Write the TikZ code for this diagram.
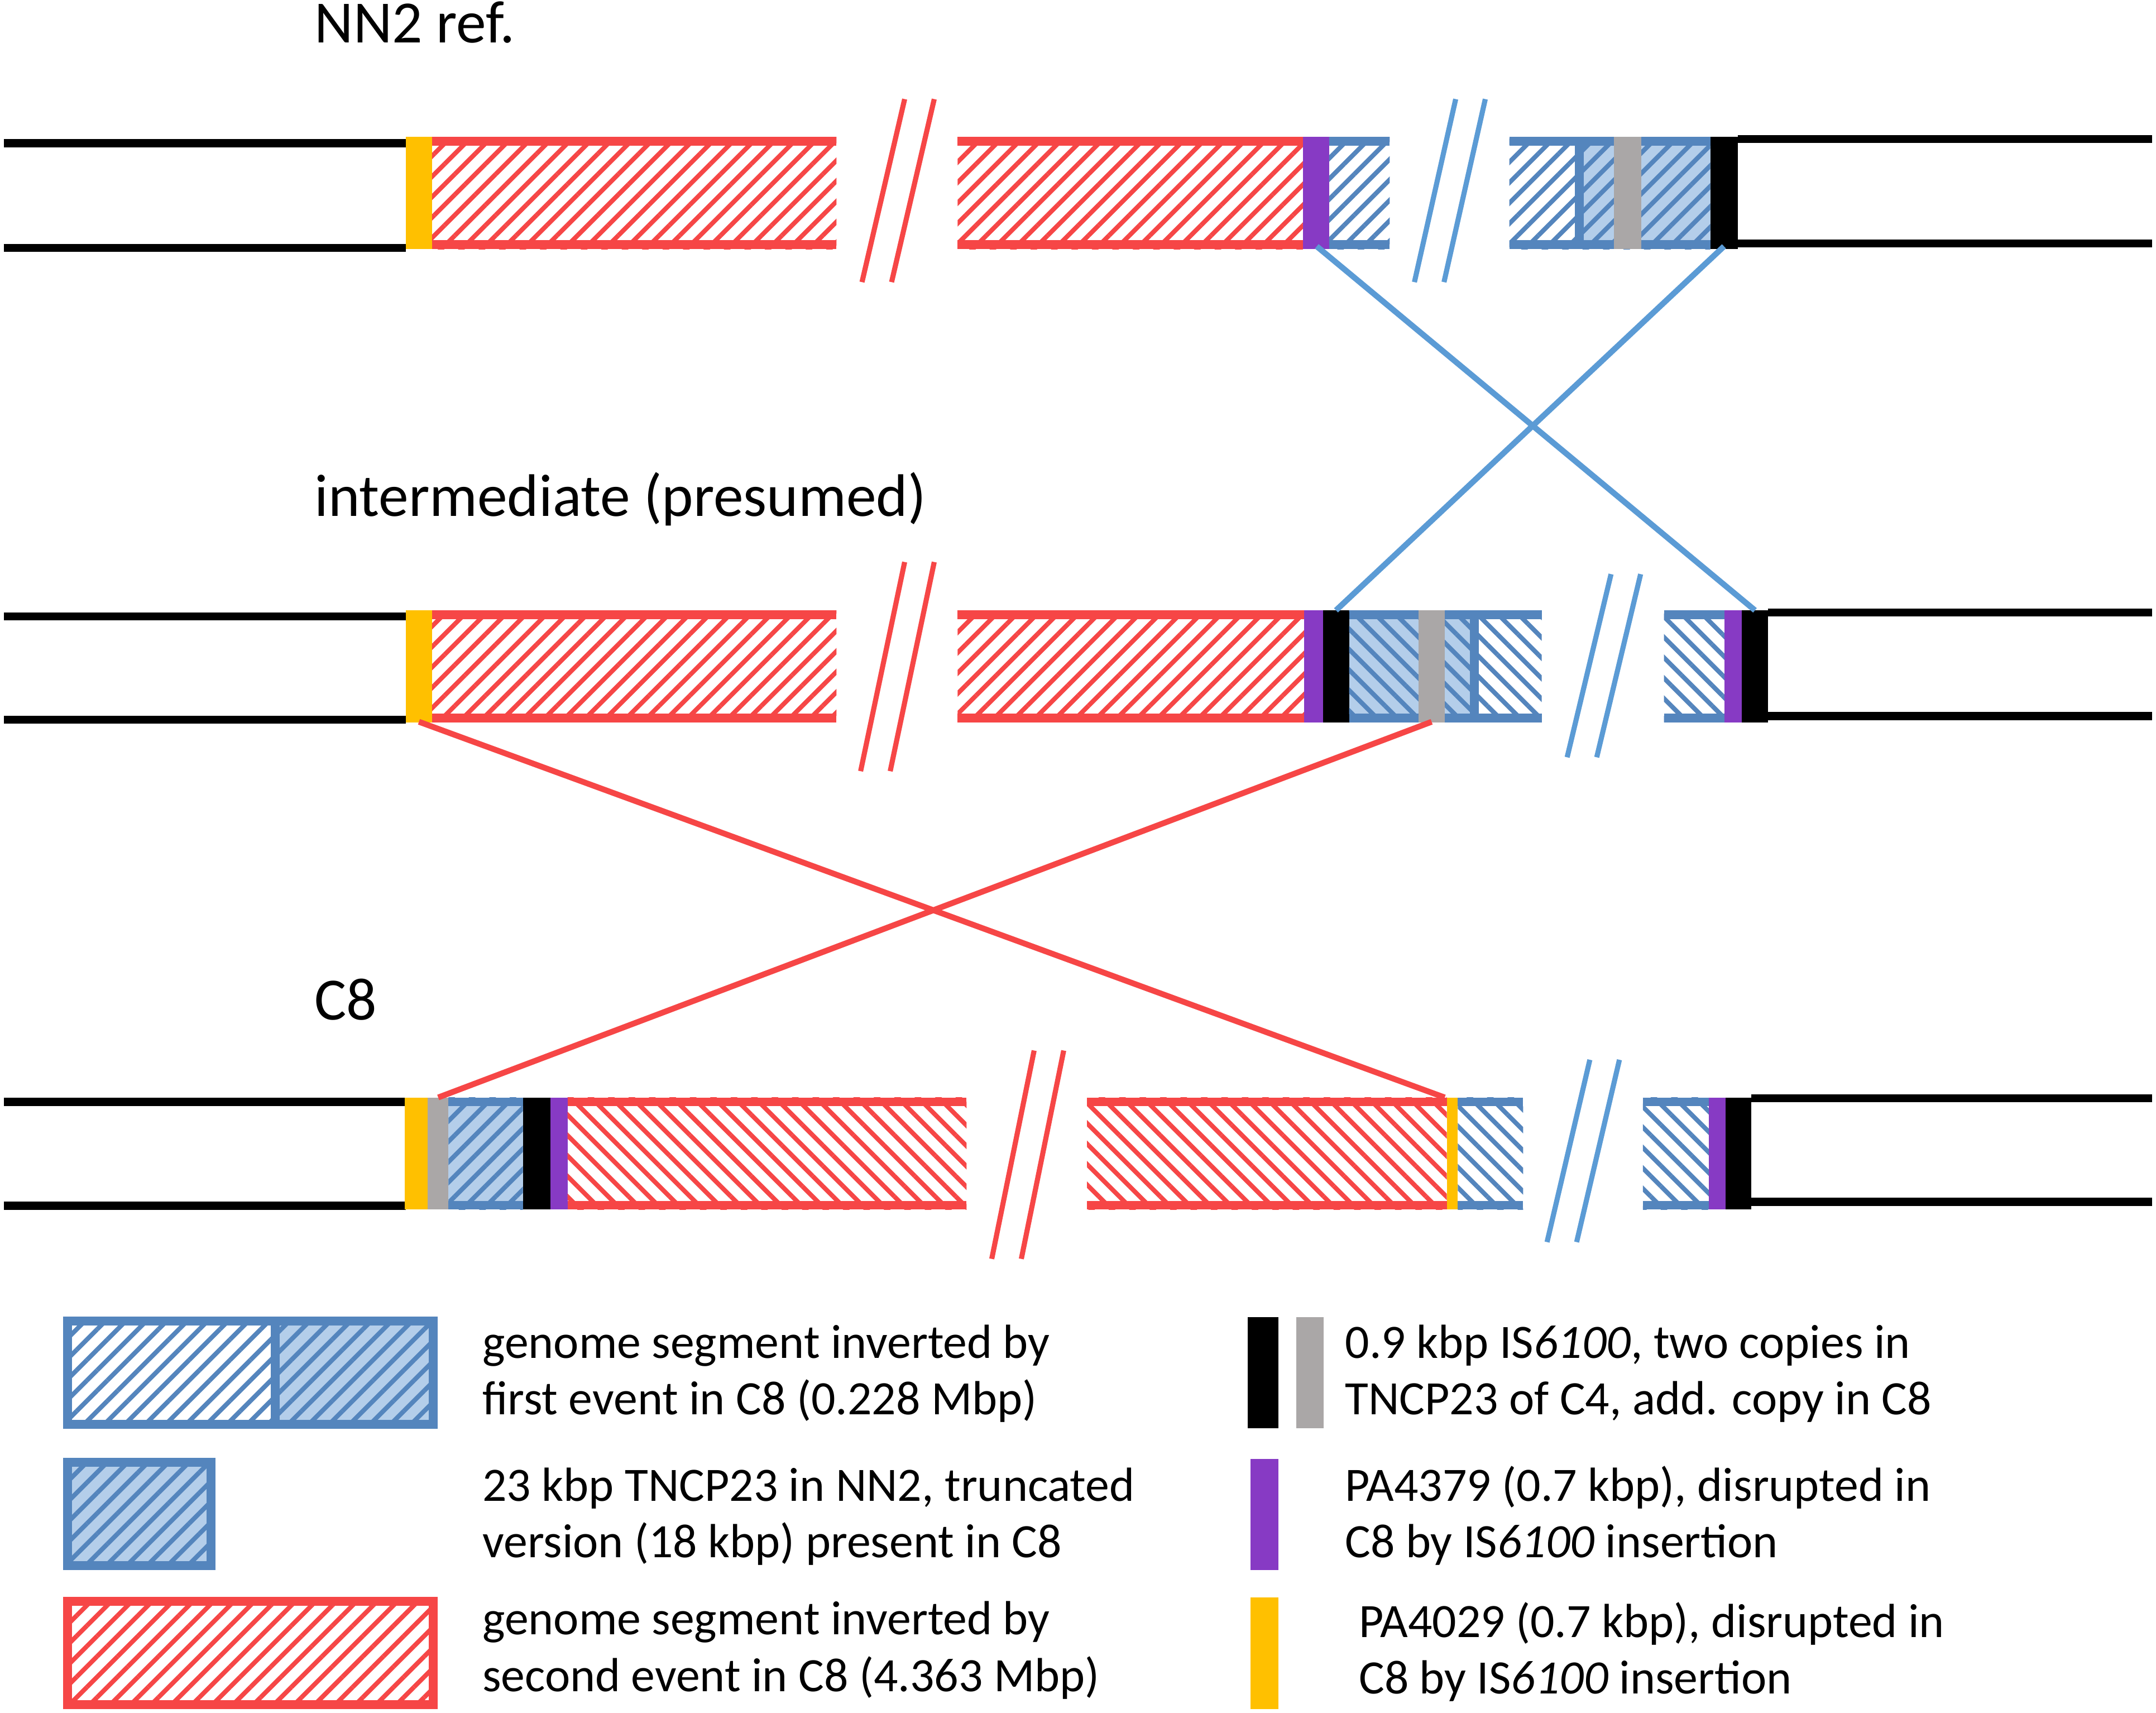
\documentclass[tikz,border=0pt]{standalone}
\usepackage{fontspec}
\setmainfont{Carlito}
\usetikzlibrary{patterns.meta}
\definecolor{segred}{RGB}{246,70,70}
\definecolor{bandblue}{RGB}{84,133,189}
\definecolor{lightblue}{RGB}{180,206,234}
\definecolor{lineblue}{RGB}{91,155,213}
\definecolor{ispurple}{RGB}{135,58,196}
\definecolor{isyellow}{RGB}{255,192,0}
\definecolor{isgrey}{RGB}{170,167,167}
% segment: from, to, top, band colour, fill style
\newcommand{\seg}[5]{%
	\fill[#5] (#1,#3) rectangle (#2,#3+81.5);
	\draw[#4,band] (#1,#3+3.2) -- (#2,#3+3.2) (#1,#3+78.3) -- (#2,#3+78.3);}
% inserted element: from, to, top, colour
\newcommand{\insbar}[4]{\fill[#4] (#1,#3) rectangle (#2,#3+81.5);}
% break mark: top x, top y, bottom x, bottom y, colour
\newcommand{\brk}[5]{\draw[#5,slash] (#1,#2) -- (#3,#4) (#1+21.5,#2) -- (#3+21.5,#4);}
\begin{document}
\begin{tikzpicture}[x=0.01cm,y=-0.01cm,
	band/.style={line width=0.064cm},
	chrom/.style={line width=0.058cm,black},
	slash/.style={line width=0.037cm},
	conn/.style={line width=0.042cm},
	hatch/.style n args={3}{fill=#1,postaction={pattern={Lines[angle=#2,distance=1.05mm,line width=0.33mm]},pattern color=#3}},
	redF/.style={hatch={white}{45}{segred}},
	redB/.style={hatch={white}{-45}{segred}},
	blueF/.style={hatch={white}{45}{bandblue}},
	blueB/.style={hatch={white}{-45}{bandblue}},
	lightF/.style={hatch={lightblue}{45}{bandblue}},
	lightB/.style={hatch={lightblue}{-45}{bandblue}},
	title/.style={anchor=base west,inner sep=0pt,font=\fontsize{12.4}{15}\selectfont},
	lgd/.style={anchor=base west,inner sep=0pt,align=left,font=\fontsize{9.9}{11.7}\selectfont}]
	\useasboundingbox (0,0) rectangle (1567,1244.6);
	% NN2 reference
	\node[title] (tref) at (228,31) {NN2 ref.};
	\draw[chrom] (3,104) -- (295,104) (3,180) -- (295,180);
	\draw[chrom] (1263,101) -- (1564,101) (1263,177) -- (1564,177);
	\insbar{295}{314}{99.5}{isyellow}
	\seg{314}{608}{99.5}{segred}{redF}
	\seg{696}{947}{99.5}{segred}{redF}
	\insbar{947}{966}{99.5}{ispurple}
	\seg{966}{1010}{99.5}{bandblue}{blueF}
	\seg{1097}{1148}{99.5}{bandblue}{blueF}
	\seg{1148}{1243}{99.5}{bandblue}{lightF}
	\draw[bandblue,band] (1148,99.5) -- (1148,181);
	\insbar{1173}{1193}{99.5}{isgrey}
	\insbar{1243}{1263}{99.5}{black}
	\brk{657.5}{72}{626.5}{205}{segred}
	\brk{1058}{72}{1028}{205}{lineblue}
	% intermediate
	\node[title] (tint) at (228,375) {intermediate (presumed)};
	\draw[chrom] (3,448) -- (295,448) (3,523) -- (295,523);
	\draw[chrom] (1285,445) -- (1564,445) (1285,520.3) -- (1564,520.3);
	\insbar{295}{314}{443.5}{isyellow}
	\seg{314}{608}{443.5}{segred}{redF}
	\seg{696}{948}{443.5}{segred}{redF}
	\insbar{948}{961.5}{443.5}{ispurple}
	\insbar{961.5}{980.5}{443.5}{black}
	\seg{980.5}{1071.5}{443.5}{bandblue}{lightB}
	\seg{1071.5}{1120.5}{443.5}{bandblue}{blueB}
	\draw[bandblue,band] (1071.5,443.5) -- (1071.5,525);
	\insbar{1031}{1050}{443.5}{isgrey}
	\seg{1209.4}{1253.4}{443.5}{bandblue}{blueB}
	\insbar{1253.4}{1266}{443.5}{ispurple}
	\insbar{1266}{1285}{443.5}{black}
	\brk{657.5}{408.4}{625.5}{560.4}{segred}
	\brk{1170.9}{417.2}{1139}{550.3}{lineblue}
	% C8
	\node[title] (tc8) at (228,741) {C8};
	\draw[chrom] (3,800.7) -- (295,800.7) (3,876.2) -- (295,876.2);
	\draw[chrom] (1273,798) -- (1564,798) (1273,873.3) -- (1564,873.3);
	\insbar{294}{311}{797.5}{isyellow}
	\insbar{311}{326}{797.5}{isgrey}
	\seg{326}{380}{797.5}{bandblue}{lightF}
	\insbar{380}{400}{797.5}{black}
	\insbar{400}{412.5}{797.5}{ispurple}
	\seg{412.5}{702.5}{797.5}{segred}{redB}
	\seg{790}{1051.5}{797.5}{segred}{redB}
	\insbar{1051.5}{1059.5}{797.5}{isyellow}
	\seg{1059.5}{1107}{797.5}{bandblue}{blueB}
	\seg{1194}{1242}{797.5}{bandblue}{blueB}
	\insbar{1242}{1254}{797.5}{ispurple}
	\insbar{1254}{1273}{797.5}{black}
	\brk{751.6}{763.4}{720.8}{914.8}{segred}
	\brk{1155.5}{770.1}{1124.4}{902.6}{lineblue}
	% inversions
	\coordinate (pu1) at (957,179);
	\coordinate (bk1) at (1253,179);
	\coordinate (bk2l) at (971,443.5);
	\coordinate (bk2r) at (1275.5,443.5);
	\coordinate (ye2) at (304.5,524.5);
	\coordinate (gr2) at (1040.5,524.5);
	\coordinate (gr3) at (318.5,797.5);
	\coordinate (ye3) at (1050,797.5);
	\draw[conn,lineblue] (pu1) -- (bk2r) (bk1) -- (bk2l);
	\draw[conn,segred] (ye2) -- (ye3) (gr2) -- (gr3);
	% legend
	\fill[blueF] (49,960) rectangle (200,1035);
	\fill[lightF] (200,960) rectangle (315,1035);
	\draw[bandblue,band] (49,960) rectangle (315,1035) (200,960) -- (200,1035);
	\fill[lightF] (49,1062.6) rectangle (153.5,1137.8);
	\draw[bandblue,band] (49,1062.6) rectangle (153.5,1137.8);
	\fill[redF] (49,1163.6) rectangle (315,1238.7);
	\draw[segred,band] (49,1163.6) rectangle (315,1238.7);
	\fill[black] (907,957) rectangle (929,1038);
	\fill[isgrey] (942,957) rectangle (962,1038);
	\fill[ispurple] (909,1060) rectangle (929,1141);
	\fill[isyellow] (909,1161) rectangle (929,1242);
	% base anchor of a two-line node is the last line
	\node[lgd] (lfirst) at (350,1028) {genome segment inverted by\\first event in C8 (0.228 Mbp)};
	\node[lgd] (ltncp) at (350,1132) {23 kbp TNCP23 in NN2, truncated\\version (18 kbp) present in C8};
	\node[lgd] (lsecond) at (350,1229) {genome segment inverted by\\second event in C8 (4.363 Mbp)};
	\node[lgd] (lis) at (977,1028) {0.9 kbp IS\textit{6100}, two copies in\\TNCP23 of C4, add. copy in C8};
	\node[lgd] (lpa79) at (977,1132) {PA4379 (0.7 kbp), disrupted in\\C8 by IS\textit{6100} insertion};
	\node[lgd] (lpa29) at (987,1231) {PA4029 (0.7 kbp), disrupted in\\C8 by IS\textit{6100} insertion};
\end{tikzpicture}
\end{document}
